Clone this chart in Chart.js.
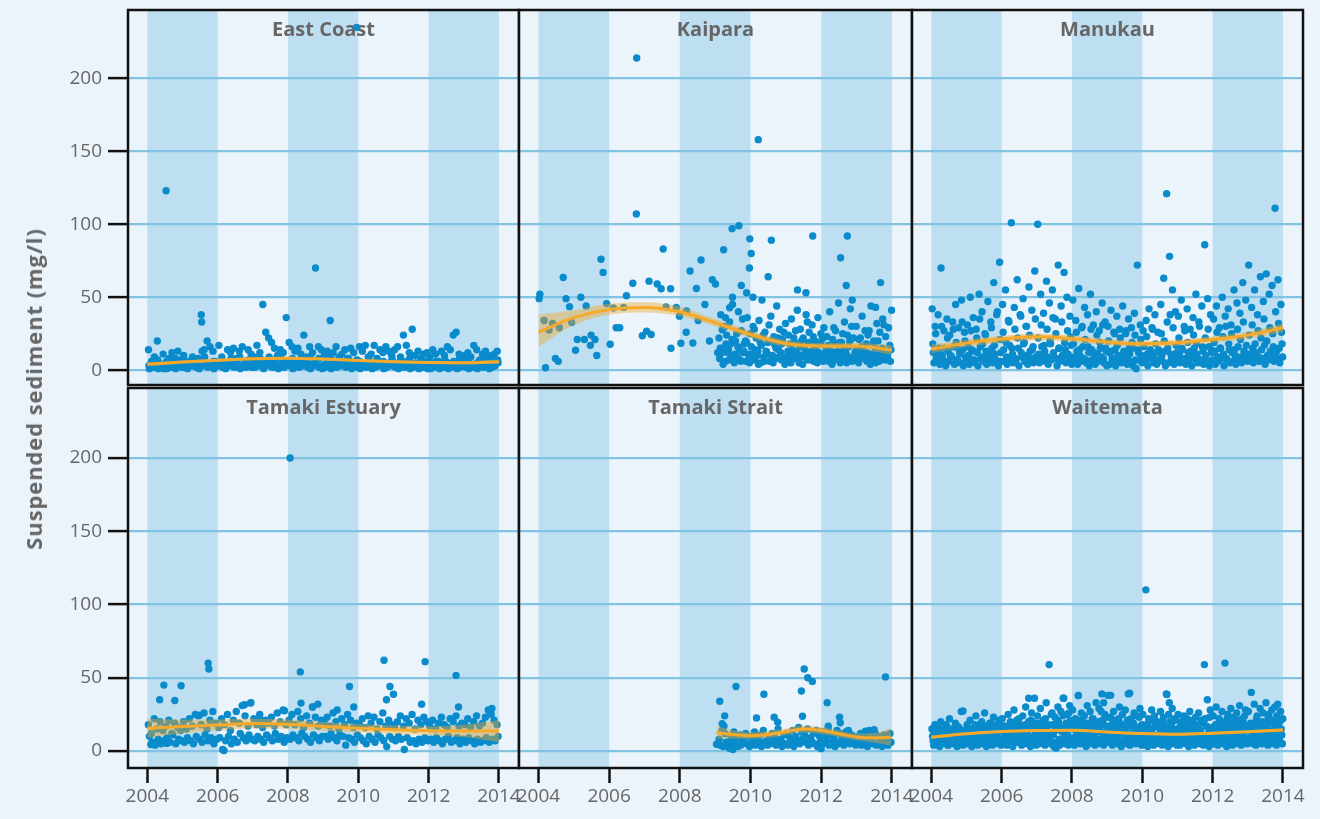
<!DOCTYPE html>
<html><head><meta charset="utf-8">
<script src="https://cdn.jsdelivr.net/npm/chart.js@4.4.1/dist/chart.umd.min.js"></script>
<style>
body{margin:0;background:#ebf3fb;}
#wrap{position:relative;width:1320px;height:819px;overflow:hidden;background:#ebf3fb;font-family:'Open Sans',sans-serif;}
#wrap canvas{position:absolute;}
#ytitle{position:absolute;left:33px;top:389px;transform:translate(-50%,-50%) rotate(-90deg);font-weight:700;font-size:22px;letter-spacing:0.9px;color:#666;white-space:nowrap;z-index:5;}
</style></head>
<body><div id="wrap"><div id="ytitle">Suspended sediment (mg/l)</div></div>
<script>
// ---------- DATA ----------
const siteNames = ["East Coast","Kaipara","Manukau","Tamaki Estuary","Tamaki Strait","Waitemata"];
const yearTicks = [2004,2006,2008,2010,2012,2014];
const valueTicks = [0,50,100,150,200];
const shadedYears = [[2004,2006],[2008,2010],[2012,2014]];

// East Coast: monthly, Jan 2004 - Dec 2013
const eastCoastA = [14,6,9,20,4,11,123,8,12,5,13,7, 10,4,6,9,3,8,38,14,20,16,13,6, 17,9,5,14,12,15,8,13,16,6,14,11, 9,17,12,45,26,22,19,15,10,14,12,36, 19,16,13,15,11,24,9,16,12,70,16,14, 10,13,34,12,16,9,11,14,8,15,12,235, 16,13,17,9,11,17,8,14,12,16,13,10, 14,16,9,24,17,12,28,10,13,8,11,12, 9,14,11,6,13,10,16,14,24,26,11,8, 10,12,9,17,14,7,11,13,10,9,11,13];
const eastCoastB = [3,5,2,7,4,1,6,3,2,8,5,4, 2,6,4,3,7,5,33,9,4,3,6,5, 4,7,3,5,8,4,6,9,3,5,7,4, 6,3,8,5,4,9,7,5,3,8,6,4, 5,8,4,6,3,7,5,9,4,6,8,3, 4,6,9,3,5,7,4,6,8,5,3,7, 6,4,3,8,5,2,7,4,6,3,5,8, 3,5,7,4,6,8,3,5,4,7,2,6, 5,3,6,4,2,7,5,3,6,4,8,5, 3,6,4,2,5,3,7,4,6,3,5,7];
const eastCoastC = [1,2,4,1,3,2,1,5,2,1,3,2, 2,1,3,4,2,1,13,3,2,4,1,3, 3,2,1,4,3,2,5,1,3,2,4,2, 2,4,3,1,5,3,2,4,1,3,2,5, 3,1,4,2,3,5,2,1,4,3,2,1, 2,3,1,4,2,3,5,2,3,1,4,2, 1,3,2,4,1,2,3,5,1,2,4,3, 2,1,3,2,4,1,2,3,1,2,3,1, 1,2,4,1,3,2,1,2,3,1,2,4, 2,1,3,2,1,3,2,4,1,2,3,5];
const eastCoastFitYears = [2004,2005,2006,2007,2008,2009,2010,2011,2012,2013,2014];
const eastCoastFit  = [4.0,5.5,6.8,7.8,8.2,7.6,6.6,5.8,5.2,5.0,5.8];
const eastCoastLow  = [2.6,4.4,5.8,6.8,7.2,6.6,5.6,4.8,4.2,3.9,4.3];
const eastCoastHigh = [5.4,6.6,7.8,8.8,9.2,8.6,7.6,6.8,6.2,6.1,7.3];

// Kaipara: irregular samples plus monthly stations from Feb 2009
const kaiparaExtra = [[2004.02,49],[2004.04,52],[2004.2,1.6],[2004.16,34],[2004.3,27.5],[2004.4,32],[2004.48,8],[2004.56,6],[2004.59,29],[2004.7,63.5],[2004.78,49],[2004.88,43.5],[2004.94,32.6],[2005.05,13.6],[2005.1,21],[2005.2,50],[2005.3,21],[2005.35,44],[2005.47,17],[2005.49,24],[2005.6,21],[2005.65,10],[2005.77,76],[2005.83,67],[2005.93,45.6],[2006.03,17.7],[2006.12,42.6],[2006.2,29],[2006.3,29],[2006.41,43],[2006.49,51],[2006.67,59.6],[2006.77,107],[2006.78,214],[2006.94,23.6],[2007.06,26.6],[2007.19,24.4],[2007.13,61],[2007.36,59],[2007.47,55.8],[2007.53,83],[2007.61,43.3],[2007.74,55.8],[2007.75,15],[2007.9,43],[2007.99,37],[2008.03,18.4],[2008.18,26],[2008.19,40.6],[2008.29,68],[2008.37,18.6],[2008.47,56],[2008.52,34],[2008.6,75.5],[2008.71,45],[2008.84,20],[2008.92,62],[2009.01,59],[2009.07,12],[2009.2,27.7],[2009.24,82.5],[2009.29,36],[2009.41,42.8],[2009.48,97],[2009.49,50],[2009.67,99],[2009.74,58],[2009.89,53],[2009.97,70],[2009.98,90],[2010.02,80],[2010.07,50],[2010.22,158],[2010.5,64],[2010.59,89],[2011.33,55],[2011.57,53],[2011.76,92],[2012.55,77],[2012.74,92],[2012.71,58],[2012.88,48],[2013.68,60],[2013.54,43]];
const kaiparaA = [22,15,30,12,18,9,25,14,35,20,11, 16,28,10,19,24,13,31,8,17,22,12,26, 9,18,14,27,11,20,15,33,10,23,16,12, 21,8,17,13,29,10,19,25,12,16,30,9, 14,22,11,18,27,8,15,20,13,31,10,17];
const kaiparaB = [8,12,6,14,10,5,9,7,12,6,8, 11,7,13,5,9,12,6,10,8,14,7,9, 6,10,8,12,5,9,11,7,13,6,10,8, 9,12,6,10,7,13,5,9,11,8,6,12, 7,10,13,6,9,11,5,8,12,7,10,6];
const kaiparaC = [15,4,18,7,21,11,16,6,13,19,5, 10,14,4,17,6,11,20,5,15,9,18,4, 13,5,22,8,16,4,12,19,7,14,5,18, 6,15,10,4,18,12,7,14,5,20,9,13, 5,16,8,12,4,19,10,6,15,11,7,14];
const kaiparaD = [38,29,24,33,45,20,40,27,18,36,25, 30,22,34,48,26,19,37,23,44,28,21,32, 24,35,19,41,28,22,38,26,31,20,36,25, 29,23,40,21,27,46,19,33,24,42,22,30, 21,37,27,24,44,20,32,26,35,23,29,41];
const kaiparaFitYears = [2004,2005,2006,2007,2008,2009,2010,2011,2012,2013,2014];
const kaiparaFit  = [26,36,41.5,43,40,32.5,24.5,18.3,16.6,16.5,13.8];
const kaiparaLow  = [16,31,38,39.5,37,30,22,16,14.5,14.3,10.5];
const kaiparaHigh = [38,41,45.5,46.5,43.5,35,27,20.5,18.5,18.7,17];

// Manukau: monthly, Jan 2004 - Dec 2013
const manukauA = [42,30,38,70,27,35,24,33,45,29,48,26, 31,50,36,28,52,40,25,47,33,60,38,74, 45,55,34,101,43,62,38,49,30,57,41,68, 100,52,39,61,46,55,35,72,44,67,50,37, 48,34,56,29,43,38,52,31,40,27,46,33, 30,41,26,37,28,44,25,35,29,39,72,31, 27,34,42,29,38,26,45,63,121,78,55,40, 37,48,30,42,28,36,52,33,44,86,49,38, 35,44,29,50,37,42,31,55,46,39,60,48, 72,43,55,38,64,47,66,52,58,111,62,45];
const manukauB = [18,25,12,30,15,22,10,28,19,14,33,20, 16,27,13,22,35,18,24,11,29,17,40,21, 26,19,33,15,28,22,37,18,30,24,14,35, 22,31,17,28,20,36,25,15,33,19,27,23, 18,26,14,30,21,16,28,12,24,19,31,15, 20,13,25,17,22,11,27,15,19,24,14,21, 16,23,12,28,18,14,25,20,33,38,29,17, 22,15,27,19,13,24,18,30,16,22,28,14, 19,26,15,23,30,18,25,14,28,21,33,17, 24,31,18,27,22,35,20,29,25,40,32,26];
const manukauC = [12,8,15,10,6,13,9,16,7,11,14,9, 10,14,7,12,16,9,13,8,15,11,6,12, 14,9,17,11,8,15,12,19,10,13,16,9, 11,16,13,9,18,12,8,15,10,14,11,17, 9,13,10,16,7,12,14,9,11,15,8,13, 12,8,14,10,6,13,9,11,15,7,12,10, 8,11,14,9,12,7,10,13,15,11,9,12, 10,14,8,12,9,15,11,7,13,10,16,12, 13,9,15,11,8,14,12,10,16,9,13,11, 11,15,12,9,14,17,10,13,16,12,15,18];
const manukauD = [5,8,4,7,3,6,9,4,7,5,3,6, 4,7,5,3,8,6,4,9,5,7,3,6, 6,4,8,5,7,3,9,6,4,8,5,7, 5,9,6,4,7,8,3,6,9,5,7,4, 7,4,6,8,5,3,7,4,6,9,5,3, 4,6,3,7,5,8,4,6,3,1,7,5, 6,3,8,5,4,7,6,3,5,8,4,6, 5,7,4,6,3,8,5,7,4,6,3,7, 4,6,8,3,7,5,6,4,8,5,7,6, 7,5,9,6,8,4,7,10,6,8,5,9];
const manukauFitYears = [2004,2005,2006,2007,2008,2009,2010,2011,2012,2013,2014];
const manukauFit  = [14.5,18.5,21.3,22.8,21.5,19.3,18,18.8,21,24,29];
const manukauLow  = [11.5,16,19,20.5,19.3,17.2,15.9,16.7,18.8,21.5,26];
const manukauHigh = [17.5,21,23.6,25.1,23.7,21.4,20.1,20.9,23.2,26.5,32];

// Tamaki Estuary
const tamakiEstuaryA = [18,12,22,15,20,14,17,21,12,19,16,14, 20,15,22,17,25,24,18,26,15,21,27,19, 16,22,18,25,14,21,27,19,31,24,17,33, 22,18,25,16,21,19,23,17,26,20,28,18, 21,25,18,27,22,16,24,19,30,23,17,21, 19,23,17,26,20,15,22,18,25,21,16,19, 18,22,16,24,19,23,15,20,26,17,21,18, 16,20,24,17,22,19,25,15,21,18,23,20, 17,21,15,19,23,18,16,22,20,24,17,19, 18,22,16,20,24,17,19,23,28,25,21,18];
const tamakiEstuaryB = [10,6,4,8,5,7,9,6,11,5,8,7, 6,9,7,5,10,8,6,11,7,9,5,8, 9,1,7,10,5,8,6,12,9,7,11,8, 7,10,8,6,11,9,7,12,8,10,6,9, 8,11,9,7,12,10,8,6,11,9,7,10, 10,8,12,9,7,11,10,4,9,8,6,11, 9,7,5,10,8,6,11,9,7,3,10,8, 7,10,8,1,9,6,7,5,8,6,9,7, 8,6,9,7,5,8,10,6,7,9,5,8, 6,9,7,5,8,6,7,9,6,8,7,10];
const tamakiEstuaryExtra = [[2008.06,200],[2005.73,60],[2005.75,56],[2008.35,54],[2010.73,62],[2011.9,61],[2012.78,51.6],[2004.47,45],[2004.96,44.5],[2004.35,35],[2004.78,34.5],[2009.75,44],[2010.9,44],[2011.0,38.7],[2010.8,35],[2009.87,30],[2012.85,30],[2011.8,32],[2013.8,29],[2013.75,27],[2006.76,31.6],[2006.93,32.7],[2008.37,32.7],[2008.85,32],[2008.7,30],[2007.9,27.5],[2005.48,24.4],[2006.18,0.3],[2004.1,4.5],[2004.55,5.2],[2009.4,28],[2007.2,22]];
const tamakiEstuaryFitYears = [2004,2005,2006,2007,2008,2009,2010,2011,2012,2013,2014];
const tamakiEstuaryFit  = [15.5,16.8,17.7,18.8,18.3,16.8,15.5,14.5,13.9,13.7,13.7];
const tamakiEstuaryLow  = [9,12,14,15.5,15,13.8,12.6,11.6,11,9.5,6];
const tamakiEstuaryHigh = [22,21.5,21.5,22,21.5,19.8,18.4,17.4,16.8,18,21];

// Tamaki Strait: monthly from Feb 2009
const tamakiStraitA = [8,14,12,6,10,13,9,11,7,12,10, 9,13,8,11,14,7,10,12,9,15,8,11, 12,9,14,10,16,13,11,15,9,12,14,10, 13,10,15,11,9,14,12,8,13,10,11,9, 10,12,8,11,14,9,12,10,8,11,9,12];
const tamakiStraitB = [4,3,6,2,5,7,3,4,6,5,3, 5,4,7,3,6,4,5,8,4,6,3,5, 4,6,3,7,5,8,6,4,7,5,3,6, 5,7,4,6,3,5,7,4,6,5,8,4, 6,4,5,3,7,5,4,6,3,5,4,6];
const tamakiStraitExtra = [[2009.13,34],[2009.59,44],[2009.27,24],[2009.2,18.6],[2009.25,17],[2010.38,38.7],[2010.17,22.6],[2010.67,23],[2010.77,19.6],[2011.52,56],[2011.44,41],[2011.62,50],[2011.75,47.5],[2011.47,23.7],[2012.17,33],[2012.2,17],[2012.52,23],[2012.54,19.3],[2013.82,50.6],[2012.77,14],[2013.25,13.5],[2013.5,14.5],[2012.0,1.6],[2009.5,1],[2009.04,4.6]];
const tamakiStraitFitYears = [2009.04,2009.5,2010,2010.5,2011,2011.5,2012,2012.5,2013,2013.5,2013.97];
const tamakiStraitFit  = [12.7,11.2,10.5,11.3,13.2,15,14,11.8,9.6,9.0,9.4];
const tamakiStraitLow  = [8.5,8.5,8.3,9,11,12.6,11.6,9.6,7.3,5.8,3.6];
const tamakiStraitHigh = [17,14,12.7,13.6,15.4,17.4,16.4,14,11.9,12.3,15.5];

// Waitemata: monthly, Jan 2004 - Dec 2013
const waitemataA = [15,18,12,20,14,17,22,13,19,16,27,14, 18,21,15,24,17,20,26,16,19,23,18,21, 22,17,25,19,28,21,18,24,30,20,26,36, 24,29,21,33,59,26,23,30,27,36,25,31, 28,22,38,26,24,31,27,22,33,29,39,25, 38,23,27,21,30,25,28,39,22,26,24,29, 25,110,22,28,24,20,27,23,39,33,29,21, 25,20,24,22,27,19,23,26,21,59,35,28, 24,30,22,27,60,25,29,23,26,31,22,28, 27,40,32,24,29,26,33,25,28,30,32,27];
const waitemataB = [10,13,8,15,11,9,14,12,10,16,9,13, 12,9,15,11,14,10,17,13,9,15,11,18, 14,11,16,12,19,15,13,17,11,16,20,14, 16,13,19,15,12,18,14,20,16,13,17,21, 15,18,13,20,16,12,19,14,17,15,21,13, 14,17,12,16,19,13,15,18,12,16,14,17, 13,16,12,15,18,11,14,17,13,20,15,12, 14,11,15,13,17,12,16,14,19,22,16,13, 15,13,17,12,16,19,14,18,13,15,20,14, 16,14,18,13,17,15,19,14,21,16,18,15];
const waitemataC = [7,5,9,6,8,4,7,10,6,8,5,9, 8,6,10,7,5,9,8,6,11,7,9,6, 9,7,11,8,6,10,9,7,12,8,10,7, 10,8,12,9,7,11,2,8,13,9,11,8, 9,11,8,12,10,7,11,9,13,8,10,12, 10,8,11,9,12,7,10,8,11,9,7,10, 8,10,7,11,9,6,10,8,12,9,11,7, 9,7,10,8,11,6,9,7,10,8,12,9, 8,10,9,7,11,8,10,9,12,8,10,7, 9,11,8,10,12,9,11,8,10,13,9,11];
const waitemataD = [4,6,3,5,7,4,6,5,3,6,4,5, 5,3,6,4,7,5,3,6,4,5,7,4, 6,4,5,3,7,6,4,5,6,3,5,4, 5,7,4,6,5,3,6,4,7,5,4,6, 4,6,5,7,3,5,6,4,5,7,4,6, 6,4,7,5,3,6,5,4,6,5,7,4, 5,3,6,4,5,7,4,6,3,5,6,4, 4,6,5,3,7,4,6,5,4,6,3,5, 5,4,6,5,3,6,4,7,5,4,6,5, 6,5,4,7,5,6,4,5,6,4,7,5];
const waitemataE = [12,16,10,14,18,11,15,13,17,12,14,11, 15,12,18,14,11,16,13,19,15,12,17,14, 17,14,20,16,13,22,15,18,14,21,16,19, 19,16,22,18,25,17,21,15,24,19,26,17, 18,21,16,24,19,15,22,17,20,27,18,23, 17,20,15,22,18,16,21,17,19,15,23,18, 16,19,14,21,17,15,20,16,25,18,22,15, 17,14,19,16,21,15,18,14,20,17,23,16, 18,15,20,17,22,16,19,15,21,18,24,17, 19,16,22,18,20,17,23,19,21,24,20,22];
const waitemataExtra = [[2009.64,39.5],[2009.1,38],[2008.18,37.8],[2010.7,38.6],[2006.77,36],[2007.75,36],[2008.9,33],[2004.9,27.3]];
const waitemataFitYears = [2004,2005,2006,2007,2008,2009,2010,2011,2012,2013,2014];
const waitemataFit  = [9.5,11.8,13.3,14,14.2,13,11.9,11.4,12.2,13.2,14.3];
const waitemataLow  = [8.4,10.9,12.4,13.1,13.3,12.1,11,10.5,11.3,12.2,13];
const waitemataHigh = [10.6,12.7,14.2,14.9,15.1,13.9,12.8,12.3,13.1,14.2,15.6];

// ---------- helpers ----------
function fromMonthly(startYear, startMonth, values, dayFrac){
  return values.map((v,i)=>({x: startYear + (startMonth + i + dayFrac)/12, y: v}));
}
function fromPairs(pairs){ return pairs.map(([x,y])=>({x,y})); }
function zipXY(xs, ys){ return xs.map((x,i)=>({x, y: ys[i]})); }

const sites = [
  {points:[...fromMonthly(2004,0,eastCoastA,0.4),...fromMonthly(2004,0,eastCoastB,0.55),...fromMonthly(2004,0,eastCoastC,0.7)],
   fy:eastCoastFitYears, fit:eastCoastFit, lo:eastCoastLow, hi:eastCoastHigh},
  {points:[...fromPairs(kaiparaExtra),...fromMonthly(2009,1,kaiparaA,0.3),...fromMonthly(2009,1,kaiparaB,0.5),...fromMonthly(2009,1,kaiparaC,0.7),...fromMonthly(2009,1,kaiparaD,0.9)],
   fy:kaiparaFitYears, fit:kaiparaFit, lo:kaiparaLow, hi:kaiparaHigh},
  {points:[...fromMonthly(2004,0,manukauA,0.3),...fromMonthly(2004,0,manukauB,0.5),...fromMonthly(2004,0,manukauC,0.7),...fromMonthly(2004,0,manukauD,0.9)],
   fy:manukauFitYears, fit:manukauFit, lo:manukauLow, hi:manukauHigh},
  {points:[...fromPairs(tamakiEstuaryExtra),...fromMonthly(2004,0,tamakiEstuaryA,0.35),...fromMonthly(2004,0,tamakiEstuaryB,0.7)],
   fy:tamakiEstuaryFitYears, fit:tamakiEstuaryFit, lo:tamakiEstuaryLow, hi:tamakiEstuaryHigh},
  {points:[...fromPairs(tamakiStraitExtra),...fromMonthly(2009,1,tamakiStraitA,0.35),...fromMonthly(2009,1,tamakiStraitB,0.7)],
   fy:tamakiStraitFitYears, fit:tamakiStraitFit, lo:tamakiStraitLow, hi:tamakiStraitHigh},
  {points:[...fromPairs(waitemataExtra),...fromMonthly(2004,0,waitemataA,0.2),...fromMonthly(2004,0,waitemataB,0.4),...fromMonthly(2004,0,waitemataC,0.6),...fromMonthly(2004,0,waitemataD,0.8),...fromMonthly(2004,0,waitemataE,0.95)],
   fy:waitemataFitYears, fit:waitemataFit, lo:waitemataLow, hi:waitemataHigh}
];

// ---------- layout & style ----------
const colEdges = [128,519,912,1303];
const rowEdges = [10,388,768];
const rowYRange = [[-10.2,246.9],[-11.6,247.8]];
const xRange = [2003.45,2014.57];
const PAD = 3;
const FONT = "'Open Sans', sans-serif";
Chart.defaults.font.family = FONT;

const deco = {
  id:'panelDeco',
  beforeDraw(chart, args, opts){
    const {ctx, chartArea:a, scales:{x}} = chart;
    ctx.save();
    ctx.fillStyle = '#ebf3fb';
    ctx.fillRect(a.left, a.top, a.width, a.height);
    ctx.fillStyle = '#bedff2';
    shadedYears.forEach(([s,e])=>{
      const x0 = x.getPixelForValue(s), x1 = x.getPixelForValue(e);
      ctx.fillRect(x0, a.top, x1-x0, a.height);
    });
    ctx.restore();
  },
  beforeDatasetsDraw(chart, args, opts){
    const {ctx, chartArea:a} = chart;
    ctx.save();
    ctx.font = "bold 20px " + FONT;
    ctx.fillStyle = '#666';
    ctx.textAlign = 'center';
    ctx.textBaseline = 'middle';
    ctx.fillText(opts.title, (a.left+a.right)/2, a.top + 20);
    ctx.restore();
  },
  afterDraw(chart){
    const {ctx, chartArea:a} = chart;
    ctx.save();
    ctx.strokeStyle = '#111';
    ctx.lineWidth = 2.5;
    ctx.strokeRect(a.left, a.top, a.width, a.height);
    ctx.restore();
  }
};
Chart.register(deco);

const wrap = document.getElementById('wrap');
sites.forEach((site, idx)=>{
  const c = idx % 3, r = Math.floor(idx/3);
  const L = colEdges[c], R = colEdges[c+1], T = rowEdges[r], B = rowEdges[r+1];
  const showY = c === 0, showX = r === 1;
  const cl = showY ? 40 : L - PAD;
  const ct = T - PAD;
  const cr = R + PAD;
  const cb = showX ? 819 : B + PAD;
  const cv = document.createElement('canvas');
  cv.width = cr - cl; cv.height = cb - ct;
  cv.style.left = cl + 'px'; cv.style.top = ct + 'px';
  cv.style.width = (cr-cl) + 'px'; cv.style.height = (cb-ct) + 'px';
  wrap.appendChild(cv);
  const tension = {tension:0.4, cubicInterpolationMode:'monotone'};
  new Chart(cv, {
    type:'scatter',
    data:{datasets:[
      Object.assign({type:'line', data: zipXY(site.fy, site.fit), borderColor:'#f6a92a', borderWidth:3, pointRadius:0, fill:false, order:0}, tension),
      Object.assign({type:'line', data: zipXY(site.fy, site.hi), borderColor:'rgba(0,0,0,0)', borderWidth:0, pointRadius:0, fill:'+1', backgroundColor:'rgba(242,168,38,0.42)', order:1}, tension),
      Object.assign({type:'line', data: zipXY(site.fy, site.lo), borderColor:'rgba(0,0,0,0)', borderWidth:0, pointRadius:0, fill:false, order:2}, tension),
      {data: site.points, backgroundColor:'#0a8bcb', borderWidth:0, pointRadius:3.7, hoverRadius:0, order:3}
    ]},
    options:{
      responsive:false, animation:false, devicePixelRatio:1, events:[],
      layout:{autoPadding:false, padding:{left: showY?0:PAD, right:PAD, top:PAD, bottom: showX?0:PAD}},
      plugins:{legend:{display:false}, tooltip:{enabled:false}, panelDeco:{title: siteNames[idx]}},
      scales:{
        x:{type:'linear', min:xRange[0], max:xRange[1], display: showX,
           afterBuildTicks: s=>{ s.ticks = yearTicks.map(v=>({value:v})); },
           afterFit: s=>{ s.height = cb - B; s.paddingLeft = 0; s.paddingRight = 0; },
           border:{display:false},
           grid:{drawOnChartArea:false, drawTicks:true, tickLength:15, tickColor:'#111', tickWidth:2.5, color:'#111'},
           ticks:{color:'#666', font:{size:19, family:FONT}, padding:2, maxRotation:0, autoSkip:false, callback:v=>String(v)}},
        y:{type:'linear', min:rowYRange[r][0], max:rowYRange[r][1], display:true,
           afterBuildTicks: s=>{ s.ticks = valueTicks.map(v=>({value:v})); },
           afterFit: s=>{ s.width = showY ? (L - cl) : 0; s.paddingTop = 0; s.paddingBottom = 0; },
           border:{display:false},
           grid:{color:'#80c3e3', lineWidth:2.2, drawTicks: showY, tickLength:20, tickColor:'#111', tickWidth:2.5},
           ticks:{display: showY, color:'#666', font:{size:19, family:FONT}, padding:6, autoSkip:false, callback:v=>String(v)}}
      }
    }
  });
});
</script>
</body></html>
